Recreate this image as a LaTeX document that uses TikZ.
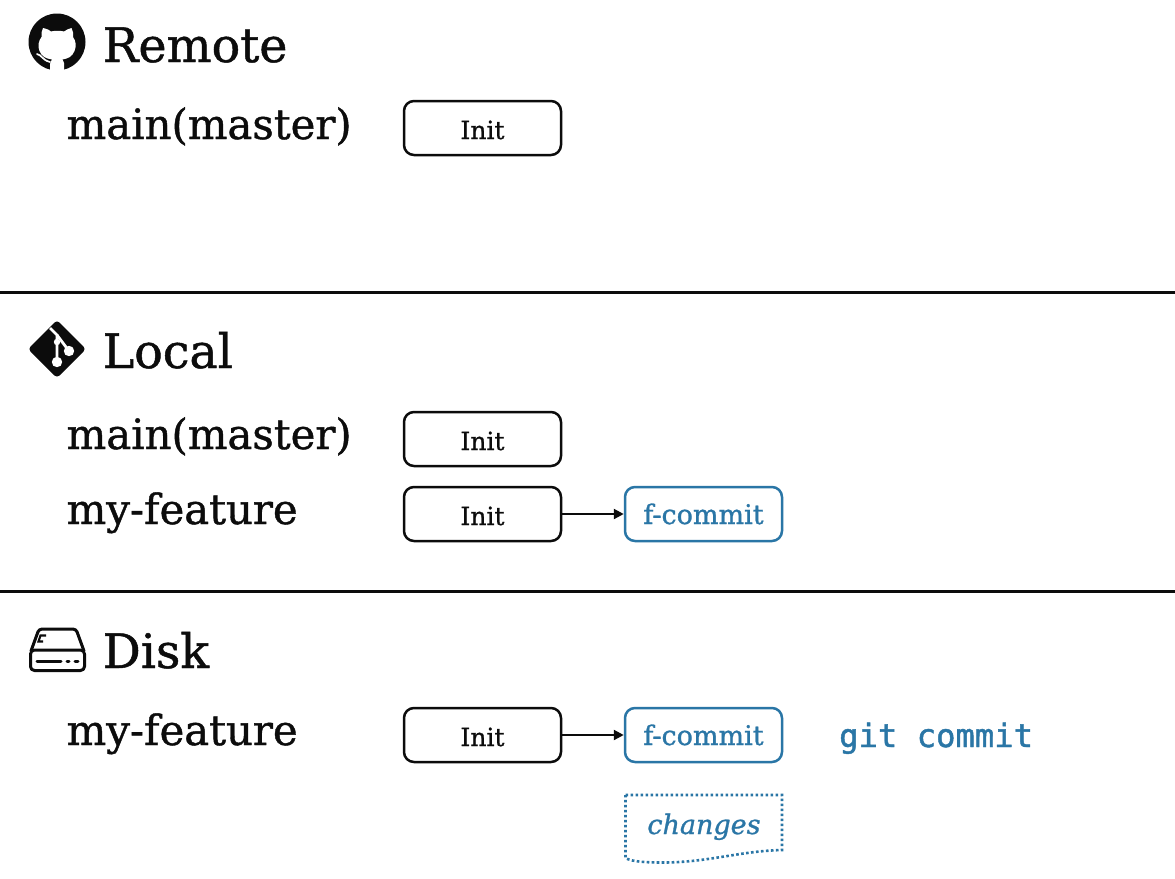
\documentclass[tikz,border=0pt]{standalone}
\usepackage{fontspec}
\setmainfont[FakeBold=1]{DejaVu Serif}
\setmonofont[FakeBold=1.4]{DejaVu Sans Mono}
\usetikzlibrary{arrows.meta}
\definecolor{cblue}{HTML}{2A76A6}
\definecolor{ink}{HTML}{0C0C0C}
\tikzset{
  heading/.style={anchor=base west,inner sep=0pt,text=ink,font=\fontsize{47.5}{50}\selectfont},
  branch/.style={anchor=base west,inner sep=0pt,text=ink,font=\fontsize{41.8}{44}\selectfont},
  commitbox/.style={draw=ink,line width=2.5pt,rounded corners=10pt,minimum width=157pt,minimum height=54pt,
    inner sep=0pt,text height=22pt,text depth=0pt,text=ink,font=\fontsize{25}{28}\selectfont},
  fbox/.style={commitbox,draw=cblue,text=cblue,text height=20pt,font=\fontsize{27}{30}\selectfont},
  sep/.style={line width=3pt,draw=ink},
  link/.style={draw=ink,line width=2.2pt,-{Triangle[length=10pt,width=10pt]}},
  cmd/.style={anchor=base west,inner sep=0pt,text=cblue,font=\ttfamily\fontsize{32.2}{35}\selectfont},
  dotline/.style={draw=cblue,line width=2.6pt,dash pattern=on 2.6pt off 2.4pt},
  iconline/.style={draw=ink,line width=3pt,line cap=round,line join=round}
}
\begin{document}
\begin{tikzpicture}[x=1pt,y=-1pt]
\useasboundingbox (0,0) rectangle (1175,878);
\fill[white] (0,0) rectangle (1175,878);
% separators
\coordinate (s1a) at (0,292); \coordinate (s1b) at (1175,292);
\coordinate (s2a) at (0,591); \coordinate (s2b) at (1175,591);
\draw[sep] (s1a) -- (s1b);
\draw[sep] (s2a) -- (s2b);
% GitHub icon
\fill[ink] (57,42) circle (28.5);
\fill[white] (43,28) .. controls (47,29) and (50,30) .. (51,31.5)
  .. controls (55,30.5) and (60,30.5) .. (64,31.5)
  .. controls (66,30) and (69,28.5) .. (71.5,28)
  .. controls (73,31) and (73.5,34) .. (73,37)
  .. controls (76,41) and (76.5,46) .. (74.5,51)
  .. controls (72,57) and (68,58.5) .. (62.5,59.5)
  .. controls (64,61) and (64.5,63) .. (64,71.5)
  -- (50,71.5)
  -- (50,64)
  .. controls (51,61.5) and (51,60.5) .. (52,59.5)
  .. controls (46,58.5) and (42,57) .. (39.5,51)
  .. controls (37.5,46) and (38.5,41) .. (41.5,37)
  .. controls (41,34) and (41.5,31) .. (43,28) -- cycle;
\draw[white,line width=1.7pt,line cap=round] (37,54) .. controls (42,55) and (42,60) .. (50,62);
% Git icon
\fill[ink,rounded corners=3.5pt] (57,320) -- (86,349) -- (57,378) -- (28,349) -- cycle;
\draw[white,line width=2.8pt] (50,328) -- (57,335) -- (57,362);
\draw[white,line width=2.8pt] (57,335) -- (69,351);
\fill[white] (57,362) circle (5.2) (69,351) circle (5.2) (57,342) circle (3.2);
% Disk icon
\draw[iconline,rounded corners=4pt] (30.5,650) rectangle (84.5,670.5);
\draw[iconline,rounded corners=3pt] (31,651) -- (39,629) -- (76,629) -- (84,651);
\draw[iconline] (37,661) -- (61,661);
\draw[iconline] (67,661) -- (69,661) (75,661) -- (78,661);
\draw[draw=ink,line width=2.2pt] (46,635.5) -- (40.5,635.5) -- (38.5,641.5) -- (43,641.5);
% Section titles and branch labels
\node[heading] (remote) at (102.5,62) {Remote};
\node[heading] (local) at (102.5,368) {Local};
\node[heading] (disk) at (102.5,668) {Disk};
\node[branch] (lremote) at (66.5,139) {main(master)};
\node[branch] (llocalm) at (66.5,449) {main(master)};
\node[branch] (llocalf) at (66.5,524) {my-feature};
\node[branch] (ldisk) at (66.5,745) {my-feature};
% Commits
\node[commitbox] (i1) at (482.5,128) {Init};
\node[commitbox] (i2) at (482.5,439) {Init};
\node[commitbox] (i3) at (482.5,514) {Init};
\node[fbox] (f3) at (703.5,514) {f-commit};
\node[commitbox] (i4) at (482.5,735) {Init};
\node[fbox] (f4) at (703.5,735) {f-commit};
\draw[link] (i3) -- (f3);
\draw[link] (i4) -- (f4);
\node[cmd] (cmd) at (839,747) {git commit};
% changes
\draw[dotline] (625.5,795) -- (782,795) -- (782,850)
  .. controls (740,851) and (710,862) .. (665,862.5)
  .. controls (648,862.5) and (632,862) .. (625.5,858) -- cycle;
\node[anchor=base,inner sep=0pt,text=cblue,font=\itshape\fontsize{27}{30}\selectfont] (changes) at (704,834) {changes};
\end{tikzpicture}
\end{document}
